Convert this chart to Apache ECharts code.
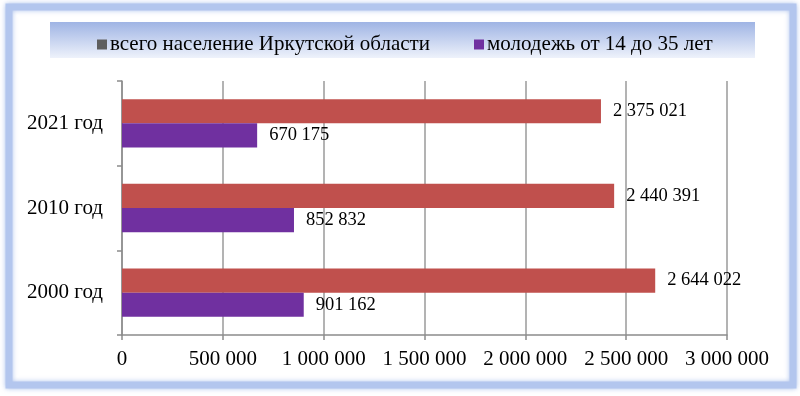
<!DOCTYPE html>
<html>
<head>
<meta charset="utf-8">
<script src="https://cdn.jsdelivr.net/npm/echarts@6/dist/echarts.min.js"></script>
<style>
html,body{margin:0;padding:0;background:#fff;}
#c{width:800px;height:396px;}
</style>
</head>
<body>
<div id="c"></div>
<script>
var categories = ['2000 год', '2010 год', '2021 год'];
var totalPopulation = [2644022, 2440391, 2375021];
var youth = [901162, 852832, 670175];
var xTicks = [0, 500000, 1000000, 1500000, 2000000, 2500000, 3000000];
var seriesNames = ['всего население Иркутской области', 'молодежь от 14 до 35 лет'];

function fmt(v) {
  return String(v).replace(/\B(?=(\d{3})+(?!\d))/g, ' ');
}
var FONT = '"Liberation Serif", "Times New Roman", serif';

var chart = echarts.init(document.getElementById('c'), null, {renderer: 'canvas'});
chart.setOption({
  backgroundColor: '#ffffff',
  animation: false,
  graphic: [
    {
      type: 'rect', z: -10, silent: true,
      shape: {x: 9, y: 7, width: 784, height: 378},
      style: {fill: '#ffffff', stroke: '#b3c6ee', lineWidth: 7, shadowBlur: 5, shadowColor: 'rgba(140,170,230,0.7)'}
    },
    {
      type: 'rect', z: -5, silent: true,
      shape: {x: 50, y: 22, width: 705, height: 36},
      style: {
        fill: new echarts.graphic.LinearGradient(0, 0, 0, 1, [
          {offset: 0, color: '#9fb4e4'},
          {offset: 1, color: '#eef2fb'}
        ])
      }
    }
  ],
  legend: {
    top: 29,
    left: 92,
    itemWidth: 10,
    itemHeight: 10,
    itemGap: 44,
    icon: 'rect',
    textStyle: {fontFamily: FONT, fontSize: 21, color: '#000', padding: [0, 0, 0, -2]},
    data: [
      {name: seriesNames[0], itemStyle: {color: '#5f5f5f'}},
      {name: seriesNames[1], itemStyle: {color: '#7030a0'}}
    ]
  },
  grid: {left: 122, right: 73, top: 81, bottom: 61, containLabel: false},
  xAxis: {
    type: 'value',
    min: xTicks[0],
    max: xTicks[xTicks.length - 1],
    interval: xTicks[1] - xTicks[0],
    axisLine: {show: true, lineStyle: {color: '#8c8c8c', width: 1.5}},
    axisTick: {show: true, length: 5, lineStyle: {color: '#8c8c8c', width: 1.5}},
    splitLine: {show: true, lineStyle: {color: '#9a9a9a', width: 1.5}},
    axisLabel: {
      fontFamily: FONT, fontSize: 21, color: '#000', margin: 14,
      formatter: function (v) { return fmt(v); }
    }
  },
  yAxis: {
    type: 'category',
    data: categories,
    axisLine: {show: true, lineStyle: {color: '#8c8c8c', width: 1.5}},
    axisTick: {show: true, length: 5, alignWithLabel: false, lineStyle: {color: '#8c8c8c', width: 1.5}},
    axisLabel: {fontFamily: FONT, fontSize: 21, color: '#000', margin: 19}
  },
  series: [
    {
      name: seriesNames[0],
      type: 'bar',
      data: totalPopulation,
      barGap: '0%',
      barCategoryGap: '43%',
      itemStyle: {color: '#c0504d'},
      label: {
        show: true, position: 'right', distance: 12,
        fontFamily: FONT, fontSize: 18.5, color: '#000',
        formatter: function (p) { return fmt(p.value); }
      }
    },
    {
      name: seriesNames[1],
      type: 'bar',
      data: youth,
      barGap: '0%',
      barCategoryGap: '43%',
      itemStyle: {color: '#7030a0'},
      label: {
        show: true, position: 'right', distance: 12,
        fontFamily: FONT, fontSize: 18.5, color: '#000',
        formatter: function (p) { return fmt(p.value); }
      }
    }
  ]
});
</script>
</body>
</html>
